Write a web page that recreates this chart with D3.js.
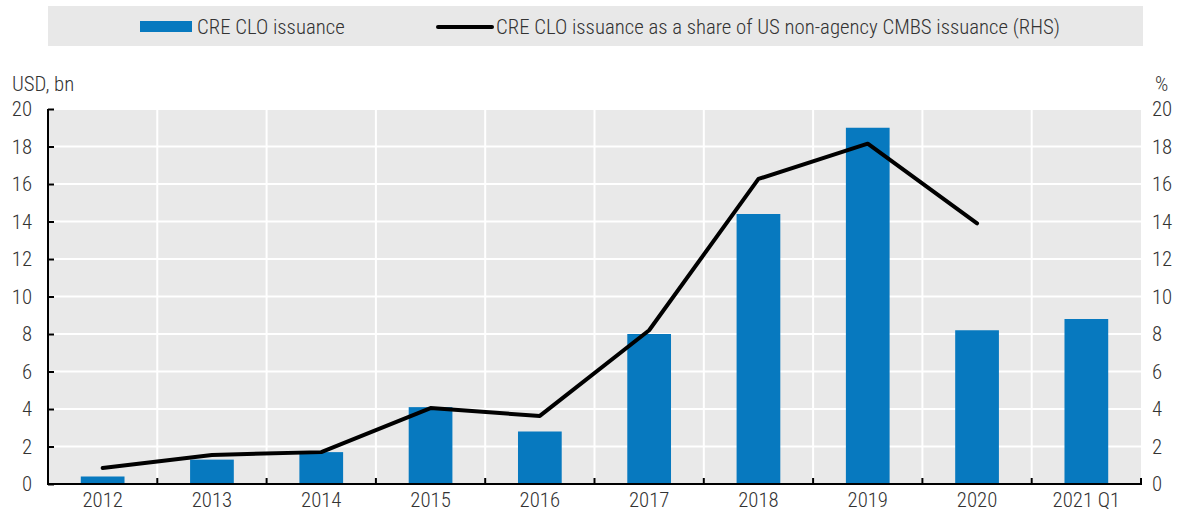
<!DOCTYPE html>
<html>
<head>
<meta charset="utf-8">
<script src="https://cdn.jsdelivr.net/npm/d3@7"></script>
<style>
  html, body { margin: 0; padding: 0; background: #fff; }
  svg text { font-family: "Roboto Condensed", "Liberation Sans Narrow", sans-serif; font-weight: 300; fill: #333; }
</style>
</head>
<body>
<svg id="chart" width="1188" height="512"></svg>
<script>
// Issuance data
const categories = ["2012", "2013", "2014", "2015", "2016", "2017", "2018", "2019", "2020", "2021 Q1"];
const issuance = [0.4, 1.3, 1.7, 4.1, 2.8, 8.0, 14.4, 19.0, 8.2, 8.8];           // USD bn
const shareOfCmbs = [0.85, 1.55, 1.7, 4.05, 3.63, 8.2, 16.27, 18.15, 13.9, null]; // %
const leftTicks = [0, 2, 4, 6, 8, 10, 12, 14, 16, 18, 20];
const rightTicks = [0, 2, 4, 6, 8, 10, 12, 14, 16, 18, 20];
const legendLabels = ["CRE CLO issuance", "CRE CLO issuance as a share of US non-agency CMBS issuance (RHS)"];

const svg = d3.select("#chart");
const plot = { left: 48, right: 1141, top: 109, bottom: 484 };
const barColor = "#0779bf";
const fontSize = 20.8;

const x = d3.scaleBand().domain(categories).range([plot.left, plot.right]).paddingInner(0).paddingOuter(0);
const yL = d3.scaleLinear().domain([0, 20]).range([plot.bottom, plot.top]);
const yR = d3.scaleLinear().domain([0, 20]).range([plot.bottom, plot.top]);

// Legend band
svg.append("rect").attr("x", 48).attr("y", 6).attr("width", 1095).attr("height", 40).attr("fill", "#e8e8e8");
svg.append("rect").attr("x", 140).attr("y", 21).attr("width", 52).attr("height", 11).attr("fill", barColor);
svg.append("text").attr("x", 197).attr("y", 27).attr("dy", "0.35em").attr("font-size", fontSize).text(legendLabels[0]);
svg.append("line").attr("x1", 438).attr("x2", 492).attr("y1", 27).attr("y2", 27)
  .attr("stroke", "#000").attr("stroke-width", 4).attr("stroke-linecap", "round");
svg.append("text").attr("x", 496).attr("y", 27).attr("dy", "0.35em").attr("font-size", fontSize).text(legendLabels[1]);

// Plot background
svg.append("rect").attr("x", plot.left).attr("y", plot.top)
  .attr("width", plot.right - plot.left).attr("height", plot.bottom - plot.top).attr("fill", "#e9e9e9");

// Grid
const grid = svg.append("g").attr("stroke", "#fff").attr("stroke-width", 2);
grid.selectAll("line.h").data(leftTicks.filter(d => d > 0)).join("line").attr("class", "h")
  .attr("x1", plot.left).attr("x2", plot.right).attr("y1", d => yL(d)).attr("y2", d => yL(d));
grid.selectAll("line.v").data(categories.slice(1)).join("line").attr("class", "v")
  .attr("x1", d => x(d)).attr("x2", d => x(d)).attr("y1", plot.top).attr("y2", plot.bottom);

// Bars
const barW = x.bandwidth() * 0.4;
svg.append("g").selectAll("rect").data(categories).join("rect")
  .attr("x", d => x(d) + (x.bandwidth() - barW) / 2)
  .attr("width", barW)
  .attr("y", (d, i) => yL(issuance[i]))
  .attr("height", (d, i) => plot.bottom - yL(issuance[i]))
  .attr("fill", barColor);

// Share line
const lineGen = d3.line()
  .defined(d => d.v != null)
  .x(d => x(d.c) + x.bandwidth() / 2)
  .y(d => yR(d.v));
svg.append("path")
  .datum(categories.map((c, i) => ({ c, v: shareOfCmbs[i] })))
  .attr("d", lineGen)
  .attr("fill", "none").attr("stroke", "#000").attr("stroke-width", 4)
  .attr("stroke-linejoin", "round").attr("stroke-linecap", "round");

// Left axis
const axL = svg.append("g").attr("transform", `translate(${plot.left},0)`)
  .call(d3.axisRight(yL).tickValues(leftTicks).tickSize(6).tickFormat(""));
axL.selectAll("line").attr("stroke", "#000").attr("stroke-width", 2);
axL.select(".domain").attr("stroke", "#000").attr("stroke-width", 2).attr("d", `M0,${plot.top}V${plot.bottom}`);
svg.append("g").selectAll("text").data(leftTicks).join("text")
  .attr("x", 32).attr("y", d => yL(d)).attr("dy", "0.35em").attr("text-anchor", "end")
  .attr("font-size", fontSize).text(d => d);

// Right tick labels
svg.append("g").selectAll("text").data(rightTicks).join("text")
  .attr("x", 1152).attr("y", d => yR(d)).attr("dy", "0.35em").attr("text-anchor", "start")
  .attr("font-size", fontSize).text(d => d);

// Axis titles
svg.append("text").attr("x", 12).attr("y", 84).attr("dy", "0.35em").attr("font-size", fontSize).text("USD, bn");
svg.append("text").attr("x", 1155).attr("y", 84).attr("dy", "0.35em").attr("font-size", fontSize).text("%");

// Bottom axis
const boundaries = categories.slice(1).map(c => x(c)).concat([plot.right]);
const axB = svg.append("g");
axB.append("line").attr("x1", plot.left - 1).attr("x2", plot.right + 1)
  .attr("y1", plot.bottom).attr("y2", plot.bottom).attr("stroke", "#000").attr("stroke-width", 2);
axB.selectAll("line.t").data(boundaries).join("line").attr("class", "t")
  .attr("x1", d => d).attr("x2", d => d).attr("y1", plot.bottom).attr("y2", plot.bottom - 6)
  .attr("stroke", "#000").attr("stroke-width", 2);
axB.selectAll("text").data(categories).join("text")
  .attr("x", d => x(d) + x.bandwidth() / 2).attr("y", 500).attr("dy", "0.35em")
  .attr("text-anchor", "middle").attr("font-size", fontSize).text(d => d);
</script>
</body>
</html>
